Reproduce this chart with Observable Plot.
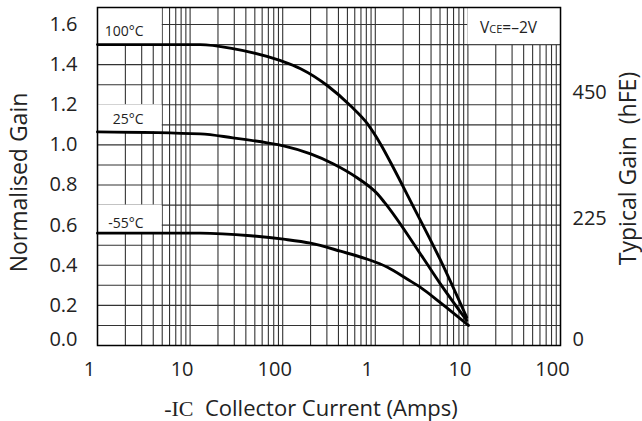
<!DOCTYPE html>
<html><head><meta charset="utf-8">
<script src="https://cdn.jsdelivr.net/npm/d3@7"></script>
<script src="https://cdn.jsdelivr.net/npm/@observablehq/plot@0.6"></script>
<style>body{margin:0;background:#fff;}</style>
</head><body><div id="chart"></div>
<script>
// Series: collector current (mA) vs normalised gain
const seriesNames = ["100°C", "25°C", "-55°C"];
const current100 = [1, 12.9, 29, 95, 156, 305, 540, 824, 1138, 1573, 2400, 5000, 9700];
const gain100    = [1.50, 1.50, 1.48, 1.42, 1.38, 1.295, 1.195, 1.105, 1.005, 0.885, 0.72, 0.43, 0.14];
const current25  = [1, 12.9, 29, 68, 102, 200, 354, 642, 1057, 1250, 3300, 5000, 9700];
const gain25     = [1.065, 1.055, 1.035, 1.01, 0.995, 0.955, 0.905, 0.835, 0.755, 0.715, 0.435, 0.31, 0.125];
const currentM55 = [1, 12.9, 45, 102, 200, 421, 824, 1355, 2227, 3076, 5000, 10150];
const gainM55    = [0.56, 0.56, 0.547, 0.53, 0.51, 0.47, 0.43, 0.39, 0.33, 0.29, 0.215, 0.10];

// Series labels (text, label value, white box top)
const labelGain = [1.565, 1.127, 0.608];
const labelBoxTop = [1.685, 1.2, 0.7];
const labelBoxBottom = [1.5, 1.065, 0.56];
const labelBoxRight = 5;       // mA
const labelRightAt = 3.15;     // mA

// Axes
const xTicks = [1, 10, 100, 1000, 10000, 100000];
const xTickLabels = ["1", "10", "100", "1", "10", "100"];
const yTicks = [0, 0.2, 0.4, 0.6, 0.8, 1.0, 1.2, 1.4, 1.6];
const hfeTicks = [0, 225, 450];
const hfePerUnit = 357;
const condition = "VCE=–2V";

const gridX = d3.range(0, 5).flatMap(e => d3.range(1, 10).map(m => m * 10 ** e)).concat([1e5]);
const gridY = d3.range(0, 17).map(i => i / 10);

const rows = [
  ...current100.map((c, i) => ({series: seriesNames[0], current: c, gain: gain100[i]})),
  ...current25.map((c, i) => ({series: seriesNames[1], current: c, gain: gain25[i]})),
  ...currentM55.map((c, i) => ({series: seriesNames[2], current: c, gain: gainM55[i]}))
];
const labels = seriesNames.map((s, i) => ({s, y: labelGain[i], top: labelBoxTop[i], bottom: labelBoxBottom[i]}));

const ink = "#222";
const plot = Plot.plot({
  width: 642, height: 421,
  marginLeft: 97, marginRight: 82, marginTop: 7, marginBottom: 76,
  style: {fontFamily: "'Open Sans', sans-serif", fontSize: "20px", background: "white", color: ink},
  x: {type: "log", domain: [1, 1e5]},
  y: {domain: [0, 1.685]},
  marks: [
    Plot.ruleX(gridX, {stroke: "#333", strokeWidth: 1.1}),
    Plot.ruleY(gridY, {stroke: "#333", strokeWidth: 1.1}),
    Plot.rect(labels, {x1: 1, x2: labelBoxRight, y1: "bottom", y2: "top", fill: "white"}),
    Plot.rect([condition], {x1: 1e4, x2: 1e5, y1: 1.5, y2: 1.685, fill: "white"}),
    Plot.text(labels, {x: labelRightAt, y: "y", text: "s", textAnchor: "end", fontSize: 14, fill: ink}),
    Plot.text([condition], {frameAnchor: "top-right", textAnchor: "middle", lineAnchor: "middle", dx: -52, dy: 21, fontSize: 15.5, fill: ink}),
    Plot.line(rows, {x: "current", y: "gain", z: "series", stroke: "black", strokeWidth: 2.9, curve: "monotone-x"}),
    Plot.frame({stroke: "black", strokeWidth: 1.5}),
    Plot.axisX(xTicks, {tickSize: 0, tickPadding: 16, dx: -8, tickFormat: d => xTickLabels[xTicks.indexOf(d)], label: null, fontSize: 20, fill: ink}),
    Plot.axisY(yTicks, {anchor: "left", tickSize: 0, tickPadding: 20, tickFormat: d3.format(".1f"), label: null, fontSize: 20, fill: ink}),
    Plot.axisY(hfeTicks.map(v => v / hfePerUnit), {anchor: "right", tickSize: 0, tickPadding: 12, tickFormat: d => String(Math.round(d * hfePerUnit)), label: null, fontSize: 20, fill: ink}),
    Plot.text(["Normalised Gain"], {frameAnchor: "left", textAnchor: "middle", lineAnchor: "middle", rotate: -90, dx: -78, dy: 6, fontSize: 23, fill: ink}),
    Plot.text(["Typical Gain  (hFE)"], {frameAnchor: "right", textAnchor: "middle", lineAnchor: "middle", rotate: -90, dx: 68, dy: -8, fontSize: 23, fill: ink}),
    Plot.text(["-IC  Collector Current (Amps)"], {frameAnchor: "bottom", textAnchor: "middle", lineAnchor: "middle", dx: -18, dy: 63, fontSize: 22, fill: ink})
  ]
});
document.getElementById("chart").appendChild(plot);

// typographic details
const svg = d3.select(plot);
svg.selectAll("text").filter(function() { return this.textContent === "-IC  Collector Current (Amps)"; })
  .each(function() {
    const t = d3.select(this).style("white-space", "pre").text("");
    t.append("tspan").attr("font-family", "'Liberation Serif', serif").text("-IC");
    t.append("tspan").text("  Collector Current (Amps)");
  });
svg.selectAll("text").filter(function() { return this.textContent === "Typical Gain  (hFE)"; })
  .style("white-space", "pre");
svg.selectAll("text").filter(function() { return this.textContent === condition; })
  .each(function() {
    const t = d3.select(this).text("");
    t.append("tspan").text("V");
    t.append("tspan").attr("font-size", 11).text("CE");
    t.append("tspan").text("=–2V");
  });
// the zero labels sit slightly above the baseline in the original
svg.selectAll("text").filter(function() { return this.textContent === "0.0" || this.textContent === "0"; })
  .attr("transform", function() { return (this.getAttribute("transform") || "") + " translate(0,-6)"; });
</script></body></html>
